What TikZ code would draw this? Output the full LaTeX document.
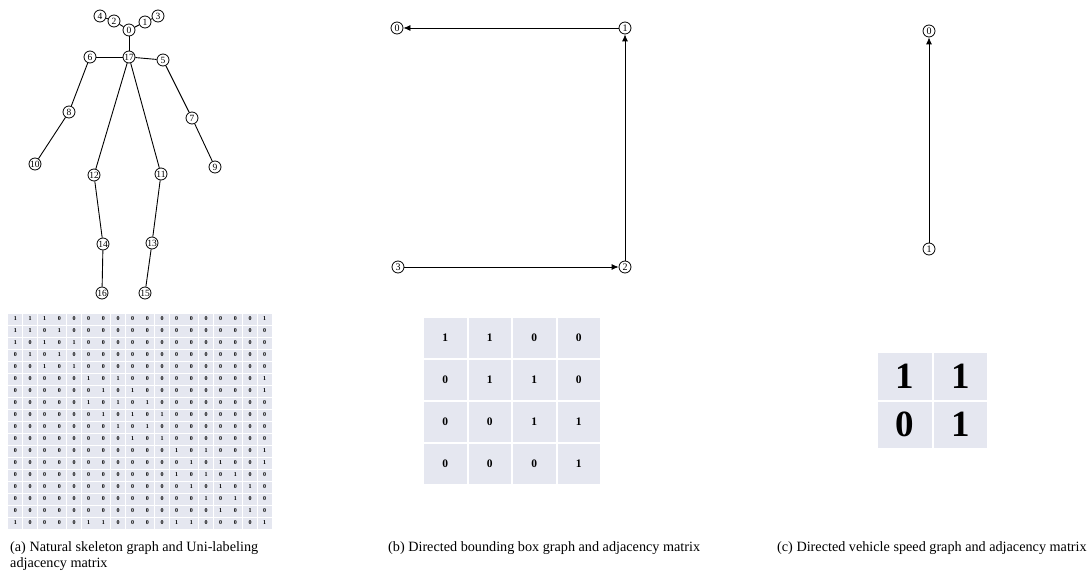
\documentclass[tikz,border=0pt]{standalone}
\usepackage{fontspec}
\setmainfont{Liberation Serif}
\usetikzlibrary{arrows.meta}
\definecolor{cellbg}{RGB}{229,231,240}
\tikzset{
  skel/.style={circle,draw,line width=0.8pt,inner sep=0pt,minimum size=12pt,font=\fontsize{9.5}{9.5}\selectfont},
  gnode/.style={circle,draw,line width=0.8pt,inner sep=0pt,minimum size=12pt,font=\fontsize{10}{10}\selectfont},
  bone/.style={line width=0.9pt},
  darr/.style={line width=0.8pt,-{Latex[length=7pt,width=6pt]}},
  bigcell/.style={fill=cellbg,draw=none,minimum width=13.7pt,minimum height=11pt,inner sep=0pt,font=\fontsize{6}{6}\selectfont\bfseries},
  midcell/.style={fill=cellbg,draw=none,minimum width=42.5pt,minimum height=40pt,inner sep=0pt,font=\fontsize{11.5}{11.5}\selectfont\bfseries},
  smallcell/.style={fill=cellbg,draw=none,minimum width=53.5pt,minimum height=46.5pt,inner sep=0pt,font=\fontsize{37}{37}\selectfont\bfseries},
  caption/.style={anchor=base west,inner sep=0pt,font=\fontsize{14.2}{16}\selectfont,align=left}
}
\begin{document}
\begin{tikzpicture}[x=1pt,y=-1pt]
\useasboundingbox (0,0) rectangle (1090,575);
% ---------- (a) skeleton ----------
\node[skel] (s4) at (100,16) {4};
\node[skel] (s2) at (114,21) {2};
\node[skel] (s0) at (129,30) {0};
\node[skel] (s1) at (145,22) {1};
\node[skel] (s3) at (158,16) {3};
\node[skel] (s17) at (129,57) {17};
\node[skel] (s6) at (90,57) {6};
\node[skel] (s5) at (163,60) {5};
\node[skel] (s8) at (69,112) {8};
\node[skel] (s7) at (192,118) {7};
\node[skel] (s10) at (35,164) {10};
\node[skel] (s9) at (215,167) {9};
\node[skel] (s12) at (94,175) {12};
\node[skel] (s11) at (161,174) {11};
\node[skel] (s14) at (103,244) {14};
\node[skel] (s13) at (152,243) {13};
\node[skel] (s16) at (102,293) {16};
\node[skel] (s15) at (145,293) {15};
\foreach \a/\b in {s4/s2,s2/s0,s0/s1,s1/s3,s0/s17,s17/s6,s17/s5,s6/s8,s8/s10,s5/s7,s7/s9,s17/s12,s17/s11,s12/s14,s14/s16,s11/s13,s13/s15}
  \draw[bone] (\a) -- (\b);
% ---------- (a) matrix ----------
\foreach \row [count=\r from 0] in {
 {1,1,1,0,0,0,0,0,0,0,0,0,0,0,0,0,0,1},
 {1,1,0,1,0,0,0,0,0,0,0,0,0,0,0,0,0,0},
 {1,0,1,0,1,0,0,0,0,0,0,0,0,0,0,0,0,0},
 {0,1,0,1,0,0,0,0,0,0,0,0,0,0,0,0,0,0},
 {0,0,1,0,1,0,0,0,0,0,0,0,0,0,0,0,0,0},
 {0,0,0,0,0,1,0,1,0,0,0,0,0,0,0,0,0,1},
 {0,0,0,0,0,0,1,0,1,0,0,0,0,0,0,0,0,1},
 {0,0,0,0,0,1,0,1,0,1,0,0,0,0,0,0,0,0},
 {0,0,0,0,0,0,1,0,1,0,1,0,0,0,0,0,0,0},
 {0,0,0,0,0,0,0,1,0,1,0,0,0,0,0,0,0,0},
 {0,0,0,0,0,0,0,0,1,0,1,0,0,0,0,0,0,0},
 {0,0,0,0,0,0,0,0,0,0,0,1,0,1,0,0,0,1},
 {0,0,0,0,0,0,0,0,0,0,0,0,1,0,1,0,0,1},
 {0,0,0,0,0,0,0,0,0,0,0,1,0,1,0,1,0,0},
 {0,0,0,0,0,0,0,0,0,0,0,0,1,0,1,0,1,0},
 {0,0,0,0,0,0,0,0,0,0,0,0,0,1,0,1,0,0},
 {0,0,0,0,0,0,0,0,0,0,0,0,0,0,1,0,1,0},
 {1,0,0,0,0,1,1,0,0,0,0,1,1,0,0,0,0,1}}
{
  \foreach \v [count=\c from 0] in \row
    \node[bigcell] (A-\r-\c) at ({8+14.667*(\c+0.5)},{313+12*(\r+0.5)}) {\v};
}
% ---------- (b) graph ----------
\node[gnode] (b0) at (397,28) {0};
\node[gnode] (b1) at (625,28) {1};
\node[gnode] (b2) at (625,267) {2};
\node[gnode] (b3) at (398,267) {3};
\draw[darr] (b1) -- (b0);
\draw[darr] (b2) -- (b1);
\draw[darr] (b3) -- (b2);
% ---------- (b) matrix ----------
\foreach \row [count=\r from 0] in {{1,1,0,0},{0,1,1,0},{0,0,1,1},{0,0,0,1}}
{
  \foreach \v [count=\c from 0] in \row
    \node[midcell] (B-\r-\c) at ({423+44.5*(\c+0.5)},{317+42*(\r+0.5)}) {\v};
}
% ---------- (c) graph ----------
\node[gnode] (c0) at (929,31) {0};
\node[gnode] (c1) at (929,249) {1};
\draw[darr] (c1) -- (c0);
% ---------- (c) matrix ----------
\foreach \row [count=\r from 0] in {{1,1},{0,1}}
{
  \foreach \v [count=\c from 0] in \row
    \node[smallcell] (C-\r-\c) at ({877+55.5*(\c+0.5)},{352+48.5*(\r+0.5)}) {\v};
}
% ---------- captions ----------
\node[caption] (capa) at (10,567) {(a) Natural skeleton graph and Uni-labeling\\adjacency matrix};
\node[caption] (capb) at (388,551) {(b) Directed bounding box graph and adjacency matrix};
\node[caption] (capc) at (777,551) {(c) Directed vehicle speed graph and adjacency matrix};
\end{tikzpicture}
\end{document}
